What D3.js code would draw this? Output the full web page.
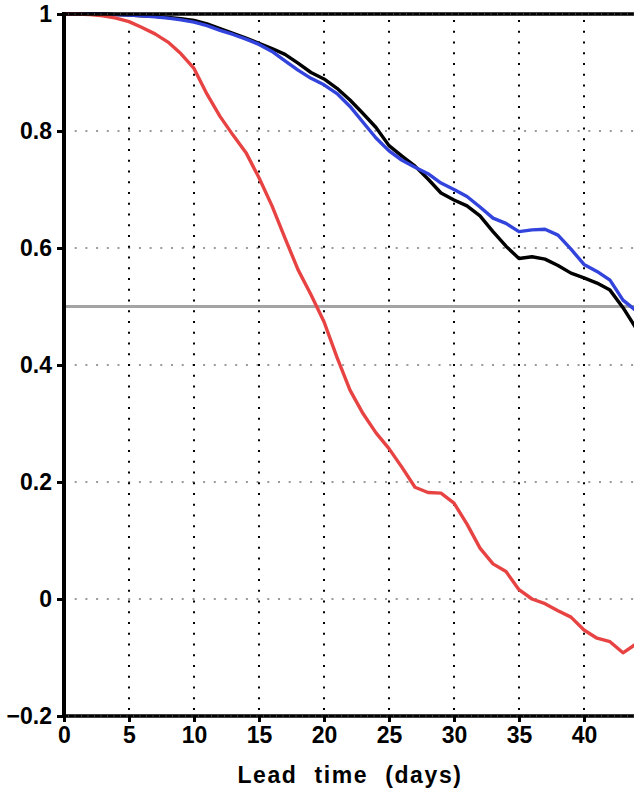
<!DOCTYPE html>
<html>
<head>
<meta charset="utf-8">
<script src="https://cdn.jsdelivr.net/npm/d3@7"></script>
<style>
  body { margin: 0; background: #fff; }
  svg { display: block; }
</style>
</head>
<body>
<svg id="chart" width="634" height="789"></svg>
<script>
// Lead time in days (daily values)
const leadDays = d3.range(0, 45);

// Correlation skill per lead day
const blackSeries = [
  1.000, 1.000, 1.000, 1.000, 0.999, 0.998, 0.997, 0.996, 0.994, 0.992,
  0.989, 0.983, 0.975, 0.967, 0.959, 0.950, 0.941, 0.931, 0.916, 0.900,
  0.889, 0.873, 0.853, 0.830, 0.806, 0.775, 0.757, 0.740, 0.718, 0.694,
  0.682, 0.672, 0.655, 0.628, 0.603, 0.582, 0.585, 0.581, 0.570, 0.557,
  0.549, 0.540, 0.528, 0.498, 0.463
];
const blueSeries = [
  1.000, 1.000, 1.000, 1.000, 0.999, 0.998, 0.997, 0.995, 0.993, 0.990,
  0.986, 0.980, 0.972, 0.965, 0.957, 0.948, 0.936, 0.920, 0.904, 0.890,
  0.879, 0.864, 0.842, 0.815, 0.788, 0.766, 0.750, 0.738, 0.727, 0.711,
  0.700, 0.688, 0.670, 0.651, 0.642, 0.628, 0.631, 0.632, 0.622, 0.598,
  0.572, 0.560, 0.545, 0.511, 0.493
];
const redSeries = [
  1.000, 1.000, 0.999, 0.997, 0.993, 0.987, 0.977, 0.966, 0.952, 0.932,
  0.907, 0.863, 0.825, 0.793, 0.763, 0.720, 0.672, 0.617, 0.563, 0.520,
  0.474, 0.413, 0.357, 0.317, 0.284, 0.257, 0.225, 0.191, 0.182, 0.181,
  0.164, 0.128, 0.087, 0.060, 0.047, 0.016, 0.000, -0.008, -0.020, -0.031,
  -0.053, -0.067, -0.073, -0.092, -0.077
];

const xTicks = [0, 5, 10, 15, 20, 25, 30, 35, 40];
const yTicks = [-0.2, 0, 0.2, 0.4, 0.6, 0.8, 1];
const yTickLabels = ["\u22120.2", "0", "0.2", "0.4", "0.6", "0.8", "1"];
const verticalGrid = [5, 10, 15, 20, 25, 30, 35, 40];
const horizontalGrid = [0, 0.2, 0.4, 0.6, 0.8];
const thresholdValue = 0.5;
const xAxisTitle = "Lead time (days)";

const svg = d3.select("#chart");
const fontFamily = "'Liberation Sans', Arial, Helvetica, sans-serif";

const x = d3.scaleLinear().domain([0, 45]).range([64, 649]);
const y = d3.scaleLinear().domain([-0.2, 1]).range([716, 14]);
const xLeft = x(0), xRight = 634;

// Dotted grid
svg.append("g").selectAll("line").data(horizontalGrid).join("line")
  .attr("x1", xLeft).attr("x2", xRight)
  .attr("y1", d => y(d)).attr("y2", d => y(d))
  .attr("stroke", "#9a9a9a").attr("stroke-width", 2)
  .attr("stroke-dasharray", "2,8.7");

svg.append("g").selectAll("line").data(verticalGrid).join("line")
  .attr("x1", d => x(d)).attr("x2", d => x(d))
  .attr("y1", y(1)).attr("y2", y(-0.2))
  .attr("stroke", "#000").attr("stroke-width", 2)
  .attr("stroke-dasharray", "2,8.75")
  .attr("stroke-dashoffset", -6);

// Reference line at 0.5
svg.append("line")
  .attr("x1", xLeft).attr("x2", xRight)
  .attr("y1", y(thresholdValue)).attr("y2", y(thresholdValue))
  .attr("stroke", "#a4a4a4").attr("stroke-width", 3);

// Skill curves
const line = d3.line().x((d, i) => x(leadDays[i])).y(d => y(d));
const series = [
  { values: blackSeries, color: "#000000" },
  { values: blueSeries, color: "#3344dd" },
  { values: redSeries, color: "#e84343" }
];
svg.append("g").selectAll("path").data(series).join("path")
  .attr("d", d => line(d.values))
  .attr("fill", "none")
  .attr("stroke", d => d.color)
  .attr("stroke-width", 3.4)
  .attr("stroke-linejoin", "round")
  .attr("stroke-linecap", "round");

// Frame: top and bottom borders
[1, -0.2].forEach(v => {
  svg.append("line")
    .attr("x1", xLeft).attr("x2", xRight)
    .attr("y1", y(v)).attr("y2", y(v))
    .attr("stroke", "#000").attr("stroke-width", 3.5);
  svg.append("line")
    .attr("x1", xLeft + 4).attr("x2", xRight)
    .attr("y1", y(v)).attr("y2", y(v))
    .attr("stroke", "#777").attr("stroke-width", 1)
    .attr("stroke-dasharray", "1,5.5");
});

// Left axis
const yAxis = d3.axisLeft(y).tickValues(yTicks)
  .tickFormat((d, i) => yTickLabels[i]).tickSize(7).tickPadding(5);
const gy = svg.append("g").attr("transform", `translate(${xLeft},0)`).call(yAxis);
gy.select(".domain").attr("stroke-width", 4).attr("d", `M0,${y(1) - 2}V${y(-0.2) + 2}`);
gy.selectAll(".tick line").attr("stroke-width", 3);
gy.selectAll(".tick text")
  .attr("font-family", fontFamily).attr("font-weight", "bold")
  .attr("font-size", 23).attr("fill", "#000");

// Bottom axis
const xAxis = d3.axisBottom(x).tickValues(xTicks).tickSize(6).tickPadding(5);
const gx = svg.append("g").attr("transform", `translate(0,${y(-0.2)})`).call(xAxis);
gx.select(".domain").remove();
gx.selectAll(".tick line").attr("stroke-width", 3);
gx.selectAll(".tick text")
  .attr("font-family", fontFamily).attr("font-weight", "bold")
  .attr("font-size", 23).attr("fill", "#000");

// Axis title
svg.append("text")
  .attr("x", 350).attr("y", 783)
  .attr("text-anchor", "middle")
  .attr("font-family", fontFamily).attr("font-weight", "bold")
  .attr("font-size", 23)
  .attr("letter-spacing", 1.6)
  .attr("word-spacing", 9)
  .text(xAxisTitle);
</script>
</body>
</html>
